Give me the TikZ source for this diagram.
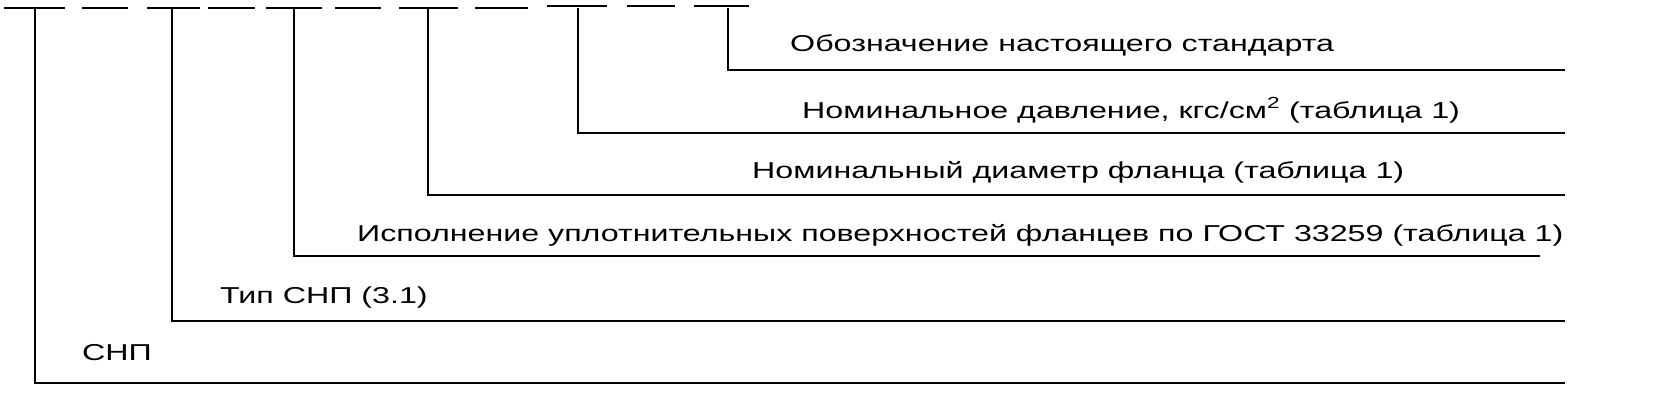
\documentclass[tikz,border=0pt]{standalone}
\usepackage{fontspec}
\usepackage{graphicx}
\setmainfont{Liberation Sans}
\newcommand\widetext[1]{\scalebox{1.4}[1]{#1}}
\begin{document}
\begin{tikzpicture}[x=1pt,y=-1pt,
        field/.style={draw, line width=2pt},
        leader/.style={draw, line width=1.2pt},
        caption/.style={anchor=base west, inner sep=0pt, font=\fontsize{23}{25}\selectfont},
    ]
	\useasboundingbox (0,0) rectangle (1654,410);
	% top field dashes
	\foreach \a/\b in {4/65, 82/128, 147/200, 208/255, 266/322, 335/381, 399/458, 475/528}
		\draw[field] (\a,8) -- (\b,8);
	\foreach \a/\b in {547/607, 627/675, 694/749}
		\draw[field] (\a,6) -- (\b,6);
	% leaders
	\coordinate (s1) at (728,8);   \coordinate (e1) at (1565,70);
	\coordinate (s2) at (578,8);   \coordinate (e2) at (1565,133);
	\coordinate (s3) at (428,8);   \coordinate (e3) at (1565,195);
	\coordinate (s4) at (294,8);   \coordinate (e4) at (1540,256);
	\coordinate (s5) at (172,8);   \coordinate (e5) at (1565,321);
	\coordinate (s6) at (35,8);    \coordinate (e6) at (1565,383);
	\foreach \i in {1,...,6}
		\draw[leader] (s\i) |- (e\i);
	\node[caption] (t1) at (790,51) {\widetext{Обозначение настоящего стандарта}};
	\node[caption] (t2) at (802,118) {\widetext{Номинальное давление, кгс/см\textsuperscript{2} (таблица 1)}};
	\node[caption] (t3) at (752,178) {\widetext{Номинальный диаметр фланца (таблица 1)}};
	\node[caption] (t4) at (357,241) {\widetext{Исполнение уплотнительных поверхностей фланцев по ГОСТ 33259 (таблица 1)}};
	\node[caption] (t5) at (220,303) {\widetext{Тип СНП (3.1)}};
	\node[caption] (t6) at (82,360) {\widetext{СНП}};
\end{tikzpicture}
\end{document}
